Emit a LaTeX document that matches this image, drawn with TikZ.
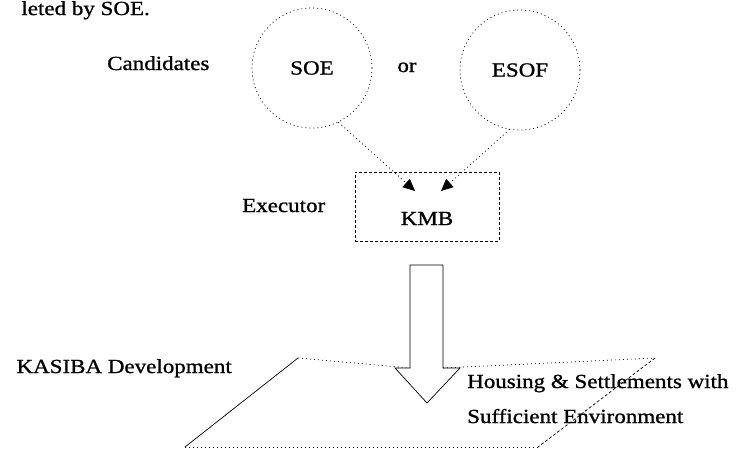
\documentclass[tikz,border=0pt]{standalone}
\usepackage{fontspec}
\setmainfont{Liberation Serif}[FakeStretch=1.15,FakeBold=1]
\usetikzlibrary{arrows.meta}
\begin{document}
\begin{tikzpicture}[x=1pt,y=-1pt,
  txt/.style={inner sep=0pt,font=\fontsize{20}{24}\selectfont},
  dotline/.style={line width=0.7pt,dash pattern=on 1pt off 3pt},
  dashline/.style={line width=0.7pt,dash pattern=on 3pt off 2pt},
  ring/.style={circle,draw,dotline,minimum size=120pt,inner sep=0pt,font=\fontsize{20}{24}\selectfont},
  conn/.style={dotline,-{Triangle[length=12pt,width=11pt]}},
  solidline/.style={line width=0.7pt}]
\useasboundingbox (0,0) rectangle (736,450);

% running text at the top
\node[txt,anchor=base east] (caption) at (150,15) {leted by SOE.};

% candidates row
\node[txt,anchor=base west] (cand) at (107,70) {Candidates};
\node[ring] (soe) at (312,68) {SOE};
\node[txt,anchor=base] (or) at (407,72) {or};
\node[ring] (esof) at (520,70) {ESOF};

% executor box
\node[txt,anchor=base west] (exec) at (242,212) {Executor};
\node[draw,dashline,minimum width=144pt,minimum height=69pt,inner sep=0pt] (kmb) at (427,206.5) {};
\node[txt,anchor=base] (kmbtext) at (427,225) {KMB};

% connectors from the candidates into the executor box
\coordinate (tipL) at (415,191);
\coordinate (tipR) at (441,191);
\draw[conn] (soe.-64) -- (tipL);
\draw[conn] (esof.-100) -- (tipR);

% hollow arrow down to the development plane
\coordinate (a1) at (410,265);
\coordinate (a2) at (410,368);
\coordinate (a3) at (395,368);
\coordinate (a4) at (427,403);
\coordinate (a5) at (460,368);
\coordinate (a6) at (443,368);
\coordinate (a7) at (443,265);
\draw[solidline,fill=white] (a1) -- (a2) -- (a3) -- (a4) -- (a5) -- (a6) -- (a7) -- cycle;

% development plane (parallelogram)
\coordinate (p1) at (298,358);
\coordinate (p2) at (655,358);
\coordinate (p3) at (538,447);
\coordinate (p4) at (185,447);
\draw[dotline] (p1) -- (a2);
\draw[dotline] (a6) -- (p2);
\draw[dashline] (p2) -- (p3);
\draw[dotline] (p3) -- (p4);
\draw[solidline] (p4) -- (p1);

% labels of the plane
\node[txt,anchor=base east] (kasiba) at (232,373) {KASIBA Development};
\node[txt,anchor=base west] (housing) at (467,388) {Housing \& Settlements with};
\node[txt,anchor=base west] (suff) at (467,423) {Sufficient Environment};
\end{tikzpicture}
\end{document}
